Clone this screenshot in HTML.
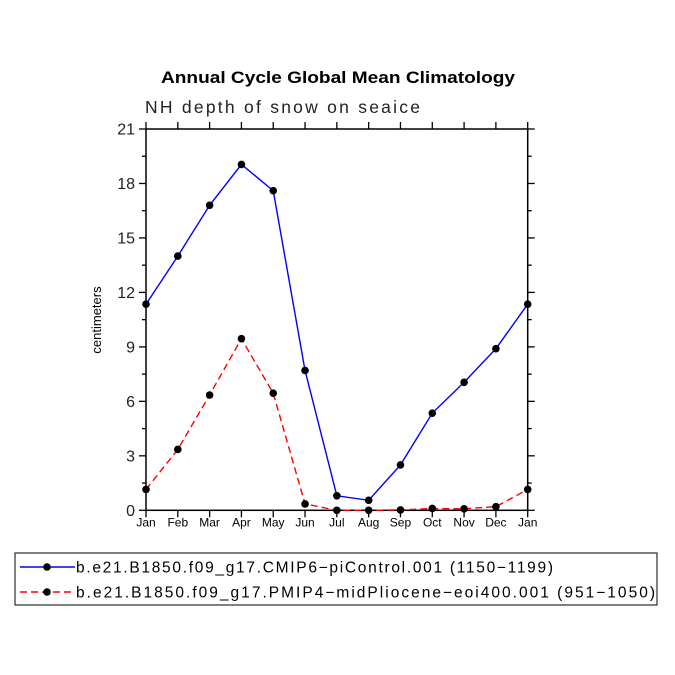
<!DOCTYPE html>
<html><head><meta charset="utf-8"><style>
html,body{margin:0;padding:0;background:#fff;}
svg{display:block;font-family:"Liberation Sans","DejaVu Sans",sans-serif;}
</style></head><body>
<svg id="chart" width="675" height="675" viewBox="0 0 675 675">
<text x="161" y="83" textLength="354" lengthAdjust="spacingAndGlyphs" font-weight="bold" font-size="17">Annual Cycle Global Mean Climatology</text>
<text x="145" y="113" textLength="275" lengthAdjust="spacing" font-size="17.5" fill="#222">NH depth of snow on seaice</text>
<text transform="translate(101,320) rotate(-90)" text-anchor="middle" font-size="13">centimeters</text>
<g id="axes"></g>
<g id="series"></g>
<rect x="15" y="553" width="642" height="52" fill="none" stroke="#000" stroke-width="1"/>
<g>
<line x1="20" y1="567" x2="75" y2="567" stroke="#0000ff" stroke-width="1.4"/>
<circle cx="47" cy="567" r="3.8" fill="#000"/>
<text x="76" y="572.5" font-size="15.5" textLength="477" lengthAdjust="spacing">b.e21.B1850.f09_g17.CMIP6−piControl.001 (1150−1199)</text>
</g>
<g>
<line x1="20" y1="592" x2="75" y2="592" stroke="#ff0000" stroke-width="1.4" stroke-dasharray="7,4"/>
<circle cx="47" cy="592" r="3.8" fill="#000"/>
<text x="76" y="597.5" font-size="15.5" textLength="579" lengthAdjust="spacing">b.e21.B1850.f09_g17.PMIP4−midPliocene−eoi400.001 (951−1050)</text>
</g>
</svg>
<script>
const months = ["Jan","Feb","Mar","Apr","May","Jun","Jul","Aug","Sep","Oct","Nov","Dec","Jan"];
const yTicks = [0,3,6,9,12,15,18,21];
const piControl = [11.35,14.0,16.8,19.05,17.6,7.7,0.8,0.55,2.5,5.35,7.05,8.9,11.35];
const midPliocene = [1.15,3.35,6.35,9.45,6.45,0.35,0,0,0.02,0.1,0.08,0.2,1.15];

const NS="http://www.w3.org/2000/svg";
const L=146,R=527.7,T=129,B=510.3,YMAX=21;
function xs(i){return L+(R-L)*i/(months.length-1);}
function ys(v){return B-(B-T)*v/YMAX;}
function mk(tag,attrs,parent){const e=document.createElementNS(NS,tag);for(const k in attrs)e.setAttribute(k,attrs[k]);parent.appendChild(e);return e;}
const axes=document.getElementById('axes');
const frame=mk('rect',{x:L,y:T,width:R-L,height:B-T,fill:'none',stroke:'#000','stroke-width':1.5},axes);


months.forEach((m,i)=>{
  const x=xs(i);
  mk('line',{x1:x,y1:T,x2:x,y2:T-7,stroke:'#000','stroke-width':1.3},axes);
  mk('line',{x1:x,y1:B,x2:x,y2:B+7,stroke:'#000','stroke-width':1.3},axes);
  const t=mk('text',{x:x,y:B+16,'text-anchor':'middle','font-size':12},axes);
  t.textContent=m;
  
  
});
for(let v=0;v<=YMAX;v+=1.5){
  const y=ys(v);const major=(v%3===0);const len=major?7:4;
  mk('line',{x1:L,y1:y,x2:L-len,y2:y,stroke:'#000','stroke-width':1.3},axes);
  mk('line',{x1:R,y1:y,x2:R+len,y2:y,stroke:'#000','stroke-width':1.3},axes);
}
yTicks.forEach(v=>{
  const t=mk('text',{x:L-11,y:ys(v)+5.5,'text-anchor':'end','font-size':16,fill:'#222'},axes);
  t.textContent=v;
  
  
});
const sg=document.getElementById('series');
function draw(vals,color,dash,name){
  const g=mk('g',{},sg);
  
  
  const pts=vals.map((v,i)=>xs(i)+','+ys(v)).join(' ');
  const a={points:pts,fill:'none',stroke:color,'stroke-width':1.4};
  if(dash)a['stroke-dasharray']=dash;
  mk('polyline',a,g);
  vals.forEach((v,i)=>{
    const c=mk('circle',{cx:xs(i),cy:ys(v),r:3.8,fill:'#000'},g);
    
    
  });
}
draw(midPliocene,'#ff0000','7,4','series-midpliocene');
draw(piControl,'#0000ff',null,'series-picontrol');
</script>
</body></html>
